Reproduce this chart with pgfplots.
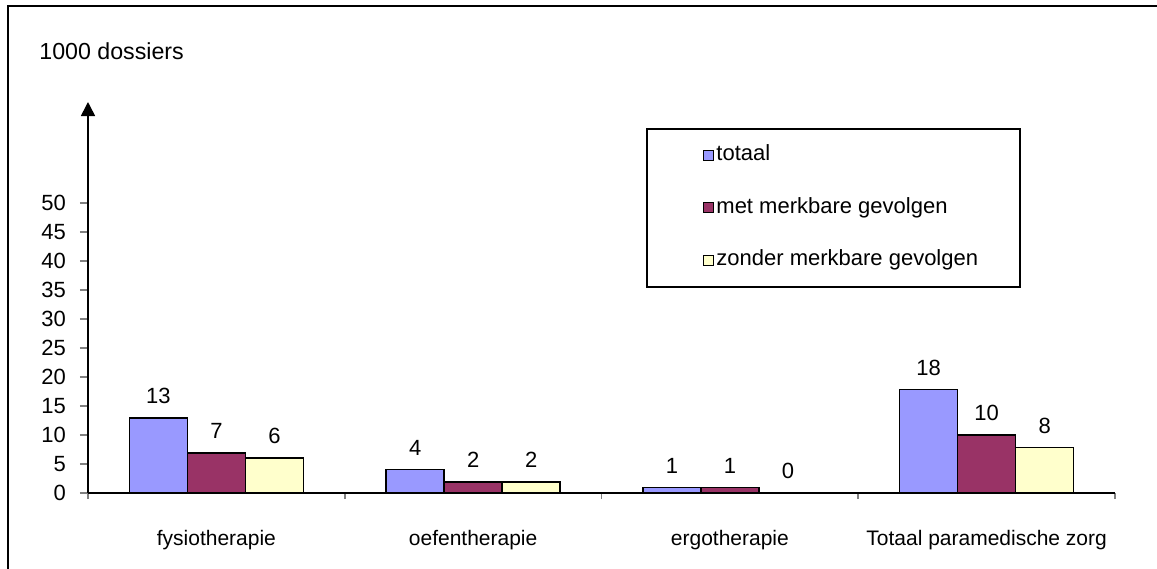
\documentclass[border=0pt]{standalone}
\usepackage{pgfplots}
\pgfplotsset{compat=1.18}
\usetikzlibrary{arrows.meta}
\usepackage{fontspec}
\setmainfont{Liberation Sans}
\newcommand{\myfont}{\fontsize{10.5}{12}\selectfont}
\newcommand{\myfontb}{\fontsize{11}{13}\selectfont}
\definecolor{cA}{HTML}{9999FF}
\definecolor{cB}{HTML}{993366}
\definecolor{cC}{HTML}{FFFFCC}
\begin{document}
\begin{tikzpicture}
\useasboundingbox (0,0) rectangle (578.5pt,284pt);
\draw[line width=1pt] (4pt,-5pt) -- (4pt,281pt) -- (590pt,281pt);
\node[anchor=base west,inner sep=0pt,font=\fontsize{11.6}{13}\selectfont] at (19.5pt,254pt) {1000 dossiers};
\begin{axis}[
  at={(44pt,37.5pt)}, anchor=south west,
  scale only axis, width=513.5pt, height=195.5pt,
  xmin=-0.5, xmax=3.5, ymin=0, ymax=67.4,
  axis x line=bottom, axis y line=left,
  x axis line style={-, line width=0.8pt},
  y axis line style={-{Triangle[width=7pt,length=7pt]}, line width=0.8pt},
  tick align=outside,
  xtick={0,1,2,3},
  xticklabels={fysiotherapie,oefentherapie,ergotherapie,Totaal paramedische zorg},
  minor xtick={-0.5,0.5,1.5,2.5,3.5},
  major x tick style={draw=none},
  minor x tick style={line width=0.8pt},
  minor tick length=3pt,
  major tick length=4pt,
  ytick={0,5,...,50},
  y tick style={line width=0.8pt},
  xticklabel style={font=\myfont, yshift=-11pt},
  yticklabel style={font=\myfontb, xshift=-3.5pt},
  /pgf/number format/assume math mode=true,
  ybar=0pt, bar width=29pt,
  clip=false,
  nodes near coords,
  nodes near coords style={font=\myfontb, yshift=3.5pt, /pgf/number format/fixed, /pgf/number format/precision=0},
  legend cell align=left,
  legend style={at={(axis cs:1.675,62.93)}, anchor=north west, draw=black, line width=0.8pt,
    inner xsep=0pt, inner ysep=8.5pt, column sep=0pt, row sep=16.75pt, font=\myfontb,
    nodes={inner xsep=1.25pt, inner ysep=0pt, text height=7.5pt, text depth=2pt}},
  mylegend/.style={legend image code/.code={\path[draw=none,fill=none] (-28pt,0pt) -- (5pt,0pt); \draw[##1,line width=0.7pt] (0pt,-2.5pt) rectangle (5pt,2.5pt);}},
]
\addplot[draw=black, line width=0.7pt, fill=cA, mylegend] coordinates {(0,12.9) (1,4.0) (2,0.9) (3,17.8)};
\addlegendentry{\makebox[150.5pt][l]{totaal}}
\addplot[draw=black, line width=0.7pt, fill=cB, mylegend] coordinates {(0,6.9) (1,1.9) (2,0.9) (3,10.0)};
\addlegendentry{\makebox[150.5pt][l]{met merkbare gevolgen}}
\addplot[draw=black, line width=0.7pt, fill=cC, mylegend] coordinates {(0,6.0) (1,1.9) (2,0) (3,7.8)};
\addlegendentry{\makebox[150.5pt][l]{zonder merkbare gevolgen}}
\end{axis}
\end{tikzpicture}
\end{document}
